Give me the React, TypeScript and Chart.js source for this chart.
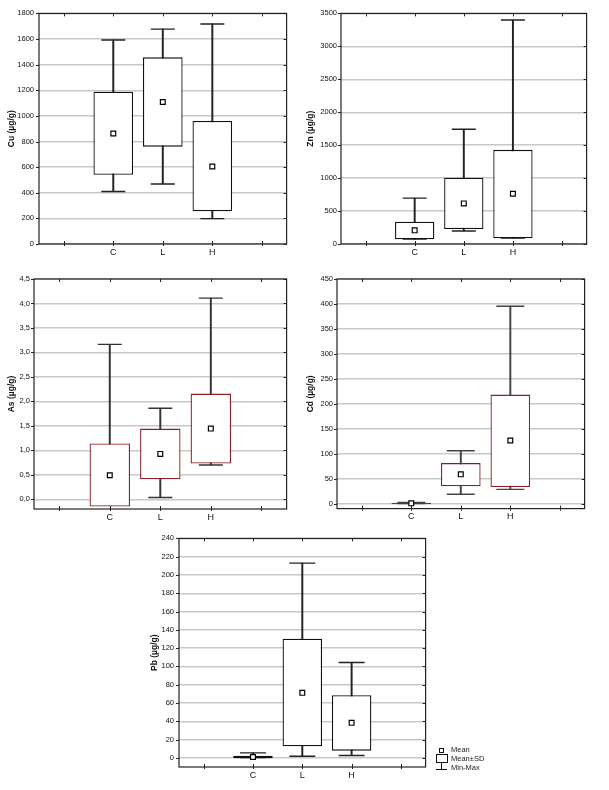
import React, { useEffect, useRef } from "react";
import { Chart, registerables } from "chart.js";

Chart.register(...registerables);
Chart.defaults.font.family = '"Liberation Sans", Arial, sans-serif';

const categories = ["", "C", "L", "H", ""];

// Cu (µg/g): min, mean-SD, mean, mean+SD, max for C, L, H
const cuMin = [410, 468, 198];
const cuLow = [540, 760, 255];
const cuMean = [862, 1108, 605];
const cuHigh = [1188, 1457, 960];
const cuMax = [1592, 1677, 1717];

// Zn (µg/g)
const znMin = [75, 197, 90];
const znLow = [71, 227, 86];
const znMean = [207, 616, 763];
const znHigh = [338, 1005, 1429];
const znMax = [697, 1742, 3399];

// As (µg/g)
const asMin = [0.0, 0.034, 0.7];
const asLow = [-0.15, 0.408, 0.728];
const asMean = [0.49, 0.926, 1.443];
const asHigh = [1.137, 1.443, 2.158];
const asMax = [3.165, 1.858, 4.11];

// Cd (µg/g)
const cdMin = [0.1, 18.6, 28.6];
const cdLow = [-0.8, 34.6, 33.3];
const cdMean = [0.5, 58.6, 126.5];
const cdHigh = [1.8, 81.2, 218.4];
const cdMax = [2.5, 105.9, 395.5];

// Pb (µg/g)
const pbMin = [0.2, 1.8, 2.5];
const pbLow = [-0.4, 12.6, 7.9];
const pbMean = [0.9, 71.1, 38.3];
const pbHigh = [2.2, 130.3, 68.6];
const pbMax = [5.4, 213, 104.3];

// axis ranges: [min, max, step]
const cuAxis = [0, 1800, 200];
const znAxis = [0, 3500, 500];
const asAxis = [-0.2, 4.5, 0.5];
const cdAxis = [-10, 450, 50];
const pbAxis = [-10, 240, 20];

const legendLabels = ["Mean", "Mean±SD", "Min-Max"];

const pad = (arr: any[]) => [null, ...arr, null];

const framePlugin = {
  id: "frame",
  afterDatasetsDraw(chart: any) {
    const { ctx, chartArea: a, scales } = chart;
    ctx.save();
    ctx.strokeStyle = "#222";
    ctx.lineWidth = 1.2;
    ctx.strokeRect(a.left, a.top, a.right - a.left, a.bottom - a.top);
    ctx.lineWidth = 1;
    const xs = scales.x;
    xs.ticks.forEach((_: any, i: number) => {
      const px = Math.round(xs.getPixelForTick(i)) + 0.5;
      ctx.beginPath();
      ctx.moveTo(px, a.top);
      ctx.lineTo(px, a.top + 3);
      ctx.moveTo(px, a.bottom - 3);
      ctx.lineTo(px, a.bottom + 2);
      ctx.stroke();
    });
    const ys = scales.y;
    ys.ticks.forEach((_: any, i: number) => {
      const py = Math.round(ys.getPixelForTick(i)) + 0.5;
      ctx.beginPath();
      ctx.moveTo(a.left - 3, py);
      ctx.lineTo(a.left, py);
      ctx.moveTo(a.right - 3, py);
      ctx.lineTo(a.right, py);
      ctx.stroke();
    });
    ctx.restore();
  },
};

type Cfg = {
  left: number; top: number; w: number; h: number;
  yW: number; xH: number; padTop: number; padRight: number; titlePad: number; labelPad: number;
  title: string; axis: number[]; min: number[]; low: number[]; mean: number[]; high: number[]; max: number[];
  boxColor: string; whiskerColor: string; boxFill: string; capR: number; decimals: boolean;
};

const panels: Cfg[] = [
  { left: 0, top: 0, w: 300, h: 262, yW: 39, xH: 18, padTop: 13, padRight: 13, titlePad: 7, labelPad: 5,
    title: "Cu (µg/g)", axis: cuAxis, min: cuMin, low: cuLow, mean: cuMean, high: cuHigh, max: cuMax,
    boxColor: "#111", whiskerColor: "#222", boxFill: "#fff", capR: 12, decimals: false },
  { left: 300, top: 0, w: 300, h: 262, yW: 41, xH: 18, padTop: 13, padRight: 12, titlePad: 6, labelPad: 4,
    title: "Zn (µg/g)", axis: znAxis, min: znMin, low: znLow, mean: znMean, high: znHigh, max: znMax,
    boxColor: "#111", whiskerColor: "#222", boxFill: "#fff", capR: 12, decimals: false },
  { left: 0, top: 262, w: 300, h: 262, yW: 34, xH: 15, padTop: 17, padRight: 13, titlePad: 7, labelPad: 4,
    title: "As (µg/g)", axis: asAxis, min: asMin, low: asLow, mean: asMean, high: asHigh, max: asMax,
    boxColor: "#8f1d24", whiskerColor: "#333", boxFill: "#fff", capR: 12, decimals: true },
  { left: 300, top: 262, w: 300, h: 262, yW: 37, xH: 15, padTop: 17, padRight: 10, titlePad: 6, labelPad: 4,
    title: "Cd (µg/g)", axis: cdAxis, min: cdMin, low: cdLow, mean: cdMean, high: cdHigh, max: cdMax,
    boxColor: "#8f1d24", whiskerColor: "#444", boxFill: "#fff", capR: 14, decimals: false },
  { left: 140, top: 524, w: 300, h: 266, yW: 39, xH: 23, padTop: 12, padRight: 9, titlePad: 9.5, labelPad: 5,
    title: "Pb (µg/g)", axis: pbAxis, min: pbMin, low: pbLow, mean: pbMean, high: pbHigh, max: pbMax,
    boxColor: "#111", whiskerColor: "#222", boxFill: "#fff", capR: 13, decimals: false },
];

function Panel({ cfg }: { cfg: Cfg }) {
  const ref = useRef<HTMLCanvasElement>(null);
  useEffect(() => {
    const [ymin, ymax, step] = cfg.axis;
    const chart = new Chart(ref.current as HTMLCanvasElement, {
      type: "bar",
      data: {
        labels: categories,
        datasets: [
          {
            type: "bar",
            data: pad(cfg.min.map((m, i) => [m, cfg.max[i]])),
            backgroundColor: cfg.whiskerColor,
            barThickness: 1.3,
            grouped: false,
            order: 5,
          } as any,
          {
            type: "line",
            data: pad(cfg.max),
            showLine: false,
            pointStyle: "line",
            pointRadius: cfg.capR,
            pointBorderColor: cfg.whiskerColor,
            pointBorderWidth: 1.4,
            order: 4,
          } as any,
          {
            type: "line",
            data: pad(cfg.min),
            showLine: false,
            pointStyle: "line",
            pointRadius: cfg.capR,
            pointBorderColor: cfg.whiskerColor,
            pointBorderWidth: 1.4,
            order: 3,
          } as any,
          {
            type: "bar",
            data: pad(cfg.low.map((l, i) => [l, cfg.high[i]])),
            backgroundColor: cfg.boxFill,
            borderColor: cfg.boxColor,
            borderWidth: 1.3,
            borderSkipped: false,
            barPercentage: 0.8,
            categoryPercentage: 1,
            grouped: false,
            order: 2,
          } as any,
          {
            type: "line",
            data: pad(cfg.mean),
            showLine: false,
            pointStyle: "rect",
            pointRadius: 3.4,
            pointBackgroundColor: "#fff",
            pointBorderColor: "#000",
            pointBorderWidth: 1.2,
            order: 1,
          } as any,
        ],
      },
      options: {
        responsive: false,
        animation: false,
        layout: { padding: { left: 0, top: cfg.padTop, right: cfg.padRight, bottom: 0 } },
        plugins: { legend: { display: false }, tooltip: { enabled: false } },
        scales: {
          x: {
            offset: true,
            grid: { display: false, drawTicks: false },
            border: { display: false },
            ticks: { padding: 3, color: "#111", font: { size: 9 }, maxRotation: 0, autoSkip: false },
            afterFit: (s: any) => { s.height = cfg.xH; },
          },
          y: {
            min: ymin,
            max: ymax,
            grid: { color: "#c8c8c8", lineWidth: 1.4, drawTicks: false },
            border: { display: false },
            ticks: {
              stepSize: step,
              includeBounds: false,
              padding: cfg.labelPad,
              color: "#111",
              font: { size: 7.5 },
              callback: (v: any) => (cfg.decimals ? Number(v).toFixed(1).replace(".", ",") : String(v)),
            },
            title: {
              display: true,
              text: cfg.title,
              color: "#111",
              font: { size: 8.5, weight: "bold", lineHeight: 1.2 },
              padding: { top: cfg.titlePad, bottom: 0 },
            },
            afterFit: (s: any) => { s.width = cfg.yW; },
          },
        },
      } as any,
      plugins: [framePlugin],
    });
    return () => chart.destroy();
  }, []);
  return (
    <canvas
      ref={ref}
      width={cfg.w}
      height={cfg.h}
      style={{ position: "absolute", left: cfg.left, top: cfg.top, width: cfg.w, height: cfg.h }}
    />
  );
}

function Legend() {
  const font = '7.5px "Liberation Sans", Arial, sans-serif';
  return (
    <div style={{ position: "absolute", left: 434, top: 744, width: 100, height: 30 }}>
      <div style={{ position: "absolute", left: 5, top: 3.5, width: 3, height: 3, border: "1px solid #111", background: "#fff" }} />
      <div style={{ position: "absolute", left: 2, top: 10, width: 10, height: 7, border: "1px solid #111" }} />
      <div style={{ position: "absolute", left: 7, top: 18, width: 1, height: 7, background: "#111" }} />
      <div style={{ position: "absolute", left: 2, top: 24.5, width: 11, height: 1, background: "#111" }} />
      {legendLabels.map((t, i) => (
        <div key={t} style={{ position: "absolute", left: 17, top: 0.5 + i * 9, font, color: "#222", lineHeight: "9px", whiteSpace: "nowrap" }}>
          {t}
        </div>
      ))}
    </div>
  );
}

export default function App() {
  return (
    <div style={{ position: "absolute", left: 0, top: 0, width: 609, height: 790, background: "#fff" }}>
      {panels.map((p) => (
        <Panel key={p.title} cfg={p} />
      ))}
      <Legend />
    </div>
  );
}
